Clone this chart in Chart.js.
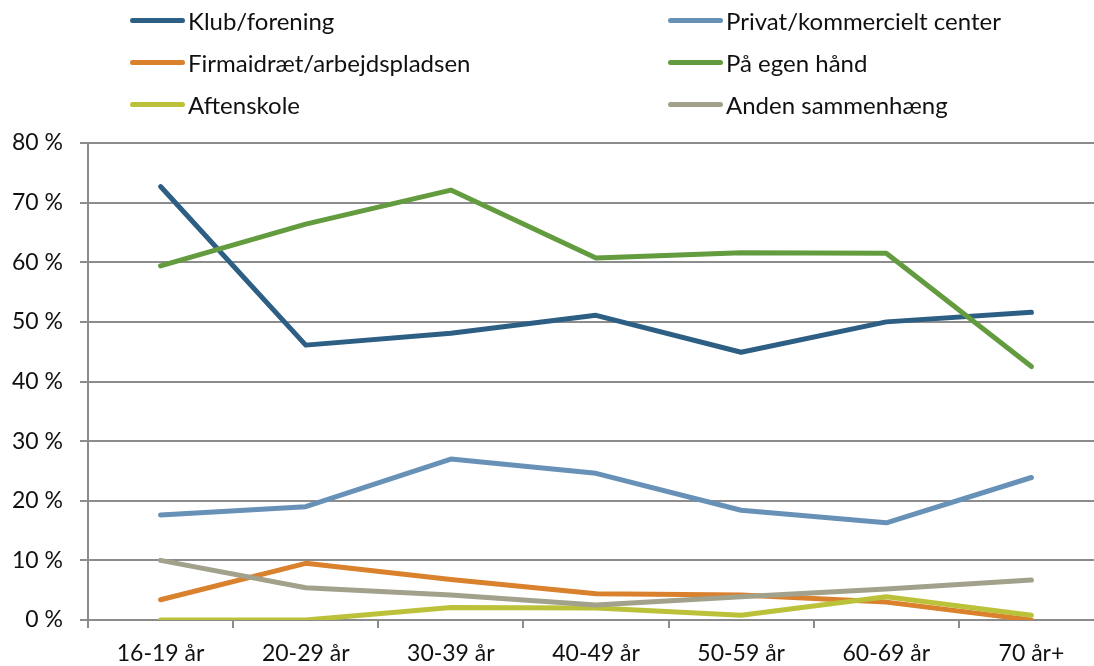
<!DOCTYPE html>
<html lang="da">
<head>
    <meta charset="UTF-8">
    <title>Idrætsdeltagelse efter alder</title>
    <style>
        body {
            margin: 0;
            padding: 0;
            background: #fff;
            font-family: 'Lato', sans-serif;
        }
        .wrap {
            position: relative;
            width: 1094px;
            height: 666px;
            overflow: hidden;
        }
        canvas {
            position: absolute;
            left: 0;
            top: 0;
        }
        .legend-item {
            position: absolute;
            height: 28px;
            display: flex;
            align-items: center;
            font-size: 24px;
            color: #111;
            white-space: nowrap;
        }
        .legend-item span.line {
            display: inline-block;
            width: 55px;
            height: 5px;
            border-radius: 3px;
            margin-right: 3px;
        }
    </style>
</head>
<body>

    <div class="wrap">
        <canvas id="chart" width="1110" height="666"></canvas>
        <div id="legend"></div>
    </div>

    <script src="https://cdn.jsdelivr.net/npm/chart.js"></script>

    <script>
        // Aldersgrupper
        const categories = ['16-19 år', '20-29 år', '30-39 år', '40-49 år', '50-59 år', '60-69 år', '70 år+'];

        // Andel i procent
        const klub       = [72.7, 46.1, 48.1, 51.1, 44.9, 50.0, 51.6];
        const privat     = [17.6, 19.0, 27.0, 24.6, 18.4, 16.3, 23.9];
        const firma      = [3.4, 9.5, 6.8, 4.4, 4.2, 3.0, 0.0];
        const egenHaand  = [59.4, 66.4, 72.1, 60.7, 61.6, 61.5, 42.5];
        const aftenskole = [0.0, 0.0, 2.1, 2.0, 0.8, 3.9, 0.8];
        const anden      = [10.0, 5.4, 4.2, 2.5, 3.9, 5.2, 6.7];

        const seriesLabels = ['Klub/forening', 'Privat/kommercielt center', 'Firmaidræt/arbejdspladsen',
                              'På egen hånd', 'Aftenskole', 'Anden sammenhæng'];
        const seriesData = [klub, privat, firma, egenHaand, aftenskole, anden];
        const seriesColors = ['#2d5f85', '#6891b8', '#d9812d', '#639b3f', '#bcc13a', '#a1a18c'];

        // Y-akse 0 % til 80 %
        const yMin = 0;
        const yMax = 80;
        const yStep = 10;

        const gridColor = '#8c8c8c';
        const tickFont = { family: 'Lato', size: 23 };

        const datasets = seriesData.map((d, i) => ({
            label: seriesLabels[i],
            data: d,
            borderColor: seriesColors[i],
            backgroundColor: seriesColors[i],
            borderWidth: 5,
            pointRadius: 0,
            pointHoverRadius: 0,
            fill: false,
            tension: 0,
            borderCapStyle: 'round',
            borderJoinStyle: 'round',
            order: seriesData.length - i   // sidste serie tegnes øverst, som i Excel
        }));

        new Chart(document.getElementById('chart').getContext('2d'), {
            type: 'line',
            data: { labels: categories, datasets: datasets },
            options: {
                responsive: false,
                animation: false,
                layout: { padding: { top: 143, right: 6, bottom: 0, left: 0 } },
                plugins: {
                    legend: { display: false },
                    tooltip: { enabled: false }
                },
                scales: {
                    x: {
                        offset: true,
                        grid: {
                            offset: true,
                            drawOnChartArea: false,
                            drawTicks: true,
                            tickLength: 8,
                            color: gridColor,
                            lineWidth: 2
                        },
                        border: { color: gridColor, width: 2 },
                        ticks: {
                            font: tickFont,
                            color: '#111',
                            padding: 12,
                            maxRotation: 0,
                            autoSkip: false
                        },
                        afterFit: (s) => { s.height = 46; }
                    },
                    y: {
                        min: yMin,
                        max: yMax,
                        grid: {
                            color: gridColor,
                            lineWidth: 2,
                            tickLength: 8
                        },
                        border: { color: gridColor, width: 2 },
                        ticks: {
                            stepSize: yStep,
                            font: tickFont,
                            color: '#111',
                            padding: 17,
                            callback: (v) => v + ' %'
                        },
                        afterFit: (s) => { s.width = 88; }
                    }
                }
            }
        });

        // Legende i to kolonner, bygget fra serierne
        const legend = document.getElementById('legend');
        const colX = [130, 668];
        const rowY = [6, 48, 90];
        seriesLabels.forEach((label, i) => {
            const item = document.createElement('div');
            item.className = 'legend-item';
            item.style.left = colX[i % 2] + 'px';
            item.style.top = rowY[Math.floor(i / 2)] + 'px';
            item.innerHTML = '<span class="line" style="background:' + seriesColors[i] + '"></span>' + label;
            legend.appendChild(item);
        });
    </script>

</body>
</html>
